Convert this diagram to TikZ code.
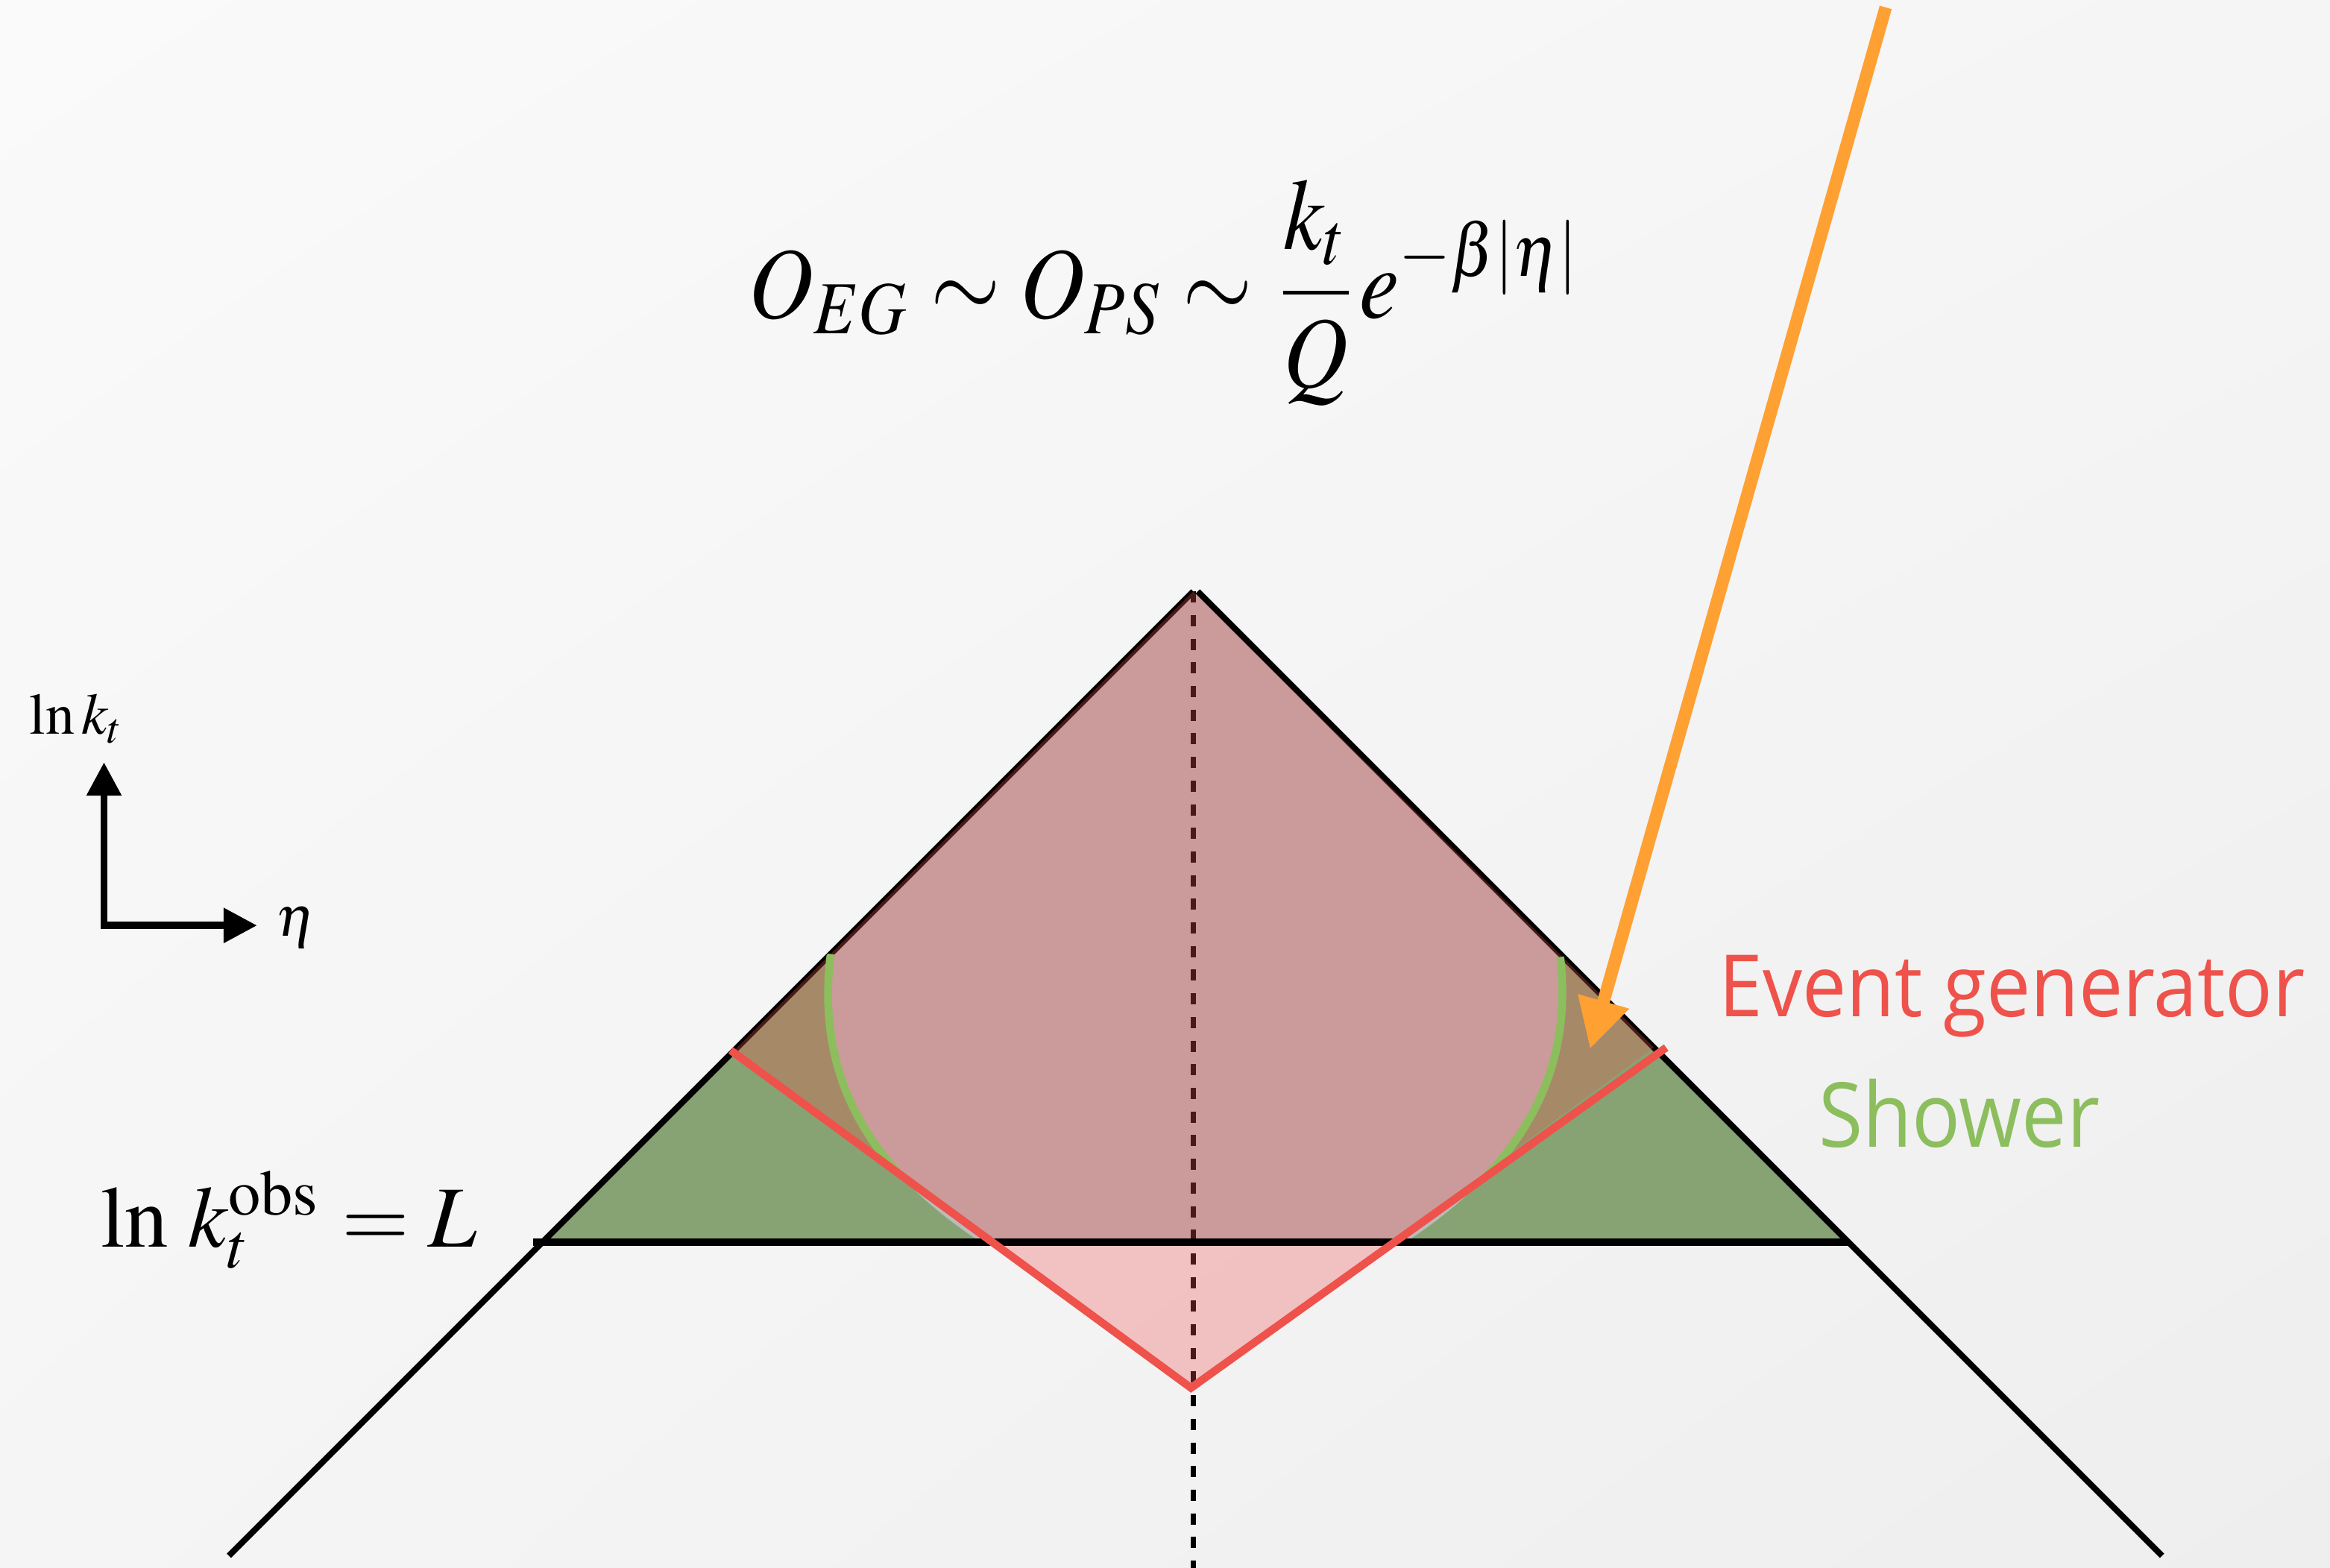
\documentclass[tikz,border=0pt]{standalone}
\usepackage{mathptmx}
\usepackage[no-math]{fontspec}
\newfontfamily\egfont{Open Sans}
\usetikzlibrary{arrows.meta,shadings}
\definecolor{bgA}{RGB}{250,250,250}
\definecolor{bgB}{RGB}{245,245,245}
\definecolor{bgC}{RGB}{238,238,238}
\definecolor{greyfill}{RGB}{187,187,187}
\definecolor{greenfill}{RGB}{135,163,115}
\definecolor{pinkfill}{RGB}{239,83,80}
\definecolor{egred}{RGB}{238,82,75}
\definecolor{shgreen}{RGB}{140,190,94}
\definecolor{arrorange}{RGB}{255,160,51}
\begin{document}
\begin{tikzpicture}[x=0.01cm,y=-0.01cm,
  blackline/.style={line width=1.15pt, black},
  hline/.style={line width=1.5pt, black},
  dashline/.style={line width=1pt, black, dash pattern=on 0.075cm off 0.084cm},
  redline/.style={line width=1.5pt, egred},
  arcline/.style={line width=1.5pt, shgreen},
  orangearrow/.style={line width=2.4pt, arrorange, -{Triangle[length=9.5pt,width=9.5pt]}},
  axisarrow/.style={line width=1.4pt, black, {Triangle[length=6.4pt,width=6.4pt]}-{Triangle[length=6.4pt,width=6.4pt]}},
  lbl/.style={anchor=base west, inner sep=0pt, outer sep=0pt}]
\useasboundingbox (0,0) rectangle (1568,1055);
\shade[upper left=bgA, upper right=bgB, lower left=bgB, lower right=bgC] (0,0) rectangle (1568,1055);

% coordinates
\coordinate (apex) at (803,398);
\coordinate (apexR) at (806,398);
\coordinate (botL) at (154,1047);
\coordinate (botR) at (1455,1047);
\coordinate (hL) at (359,836);
\coordinate (hR) at (1244,836);
\coordinate (cornL) at (365,836);
\coordinate (cornR) at (1244,836);
\coordinate (redL) at (491.7,706.8);
\coordinate (redV) at (801.5,934);
\coordinate (redR) at (1121.3,705);
\coordinate (pkL) at (494,707);
\coordinate (pkR) at (1113,705);
\coordinate (gLt) at (559,642);
\coordinate (gLb) at (660,836);
\coordinate (gRt) at (1050,644);
\coordinate (gRb) at (946,836);
\coordinate (dashTop) at (803,398);
\coordinate (dashBot) at (803,1056);
\coordinate (oTop) at (1269,5);
\coordinate (oTip) at (1070,706);
\coordinate (ax0) at (70,622.8);
\coordinate (axY) at (70,513);
\coordinate (axX) at (173,622.8);

% grey triangle above the observable line
\fill[greyfill] (apex) -- (cornL) -- (cornR) -- cycle;
% shower regions
\fill[greenfill] (cornL) -- (gLt) .. controls (548,730) and (590,790) .. (gLb) -- cycle;
\fill[greenfill] (cornR) -- (gRt) .. controls (1060,730) and (1016,790) .. (gRb) -- cycle;
% dashed axis and diagonals
\draw[dashline] (dashTop) -- (dashBot);
\draw[blackline] (apex) -- (botL);
\draw[blackline] (apexR) -- (botR);
% event generator region
\fill[pinkfill, fill opacity=0.3] (apex) -- (pkL) -- (redV) -- (pkR) -- cycle;
% observable line
\draw[hline] (hL) -- (hR);
% shower arcs
\begin{scope}
  \clip (apex) -- (redL) -- (redV) -- (redR) -- cycle;
  \draw[arcline] (gLt) .. controls (548,730) and (590,790) .. (gLb);
  \draw[arcline] (gRt) .. controls (1060,730) and (1016,790) .. (gRb);
\end{scope}
% event generator boundary
\draw[redline] (redL) -- (redV) -- (redR);
% orange arrow
\draw[orangearrow] (oTop) -- (oTip);
% axes
\draw[axisarrow] (axY) -- (ax0) -- (axX);

% texts
\node[lbl] (formula) at (504,214) {\resizebox{5.60cm}{0.93cm}{$\displaystyle O_{EG}\sim O_{PS}\sim\frac{k_t}{Q}e^{-\beta|\eta|}$}};
\node[lbl] (ylab) at (20,494) {\resizebox{!}{0.27cm}{$\ln k_t$}};
\node[lbl] (xlab) at (186,630) {\fontsize{11}{13}\selectfont$\eta$};
\node[lbl] (obs) at (68,839) {\resizebox{2.53cm}{!}{$\ln\,k_t^{\mathrm{obs}}=L$}};
\node[lbl, text=egred] (eg) at (1157,684) {\resizebox{3.94cm}{0.413cm}{\egfont Event generator}};
\node[lbl, text=shgreen] (sh) at (1224,772) {\resizebox{1.89cm}{0.458cm}{\egfont Shower}};
\end{tikzpicture}
\end{document}
